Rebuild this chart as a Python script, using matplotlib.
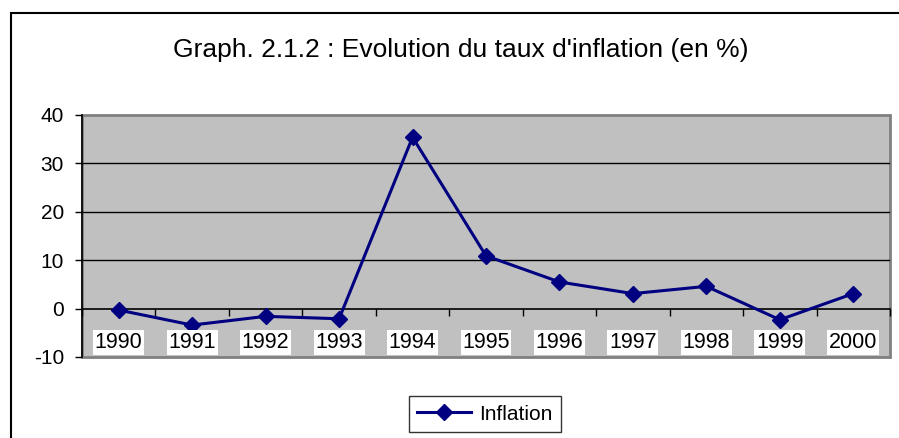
import matplotlib
matplotlib.use("Agg")
import matplotlib.pyplot as plt
from matplotlib.patches import Rectangle

plt.rcParams['font.family'] = ['Liberation Sans', 'DejaVu Sans']
plt.rcParams['axes.unicode_minus'] = False

years = ['1990', '1991', '1992', '1993', '1994', '1995', '1996', '1997', '1998', '1999', '2000']
inflation = [-0.3, -3.4, -1.6, -2.1, 35.4, 10.9, 5.5, 3.1, 4.6, -2.3, 3.1]
y_ticks = [-10, 0, 10, 20, 30, 40]

fig = plt.figure(figsize=(8.99, 4.38), dpi=100)
ax = fig.add_axes([82 / 899, 1 - 357 / 438, (890 - 82) / 899, (357 - 115) / 438])
ax.set_facecolor('#c0c0c0')

x = list(range(len(years)))
ax.plot(x, inflation, color='#000080', lw=2.2, marker='D', markersize=8.5,
        label='Inflation', zorder=5, clip_on=False)

ax.set_xlim(-0.5, len(years) - 0.5)
ax.set_ylim(-10, 40)
ax.set_yticks(y_ticks)
ax.tick_params(axis='y', labelsize=15, length=5, width=1, direction='out', pad=8)

# horizontal gridlines
for v in y_ticks[2:-1]:
    ax.axhline(v, color='black', lw=1, zorder=1)

# category axis crossing at 0
ax.spines['bottom'].set_position(('data', 0))
ax.spines['bottom'].set_color('black')
ax.spines['bottom'].set_linewidth(1.2)
ax.set_xticks([i - 0.5 for i in range(len(years) + 1)])
ax.set_xticklabels([])
ax.tick_params(axis='x', length=5, width=1, direction='out', color='black')
for i, yr in enumerate(years):
    ax.text(i, -7.0, yr, ha='center', va='center', fontsize=15.5, zorder=6,
            bbox=dict(facecolor='white', edgecolor='none', pad=1.2))

ax.spines['left'].set_color('black')
ax.spines['left'].set_linewidth(1.2)
ax.spines['top'].set_visible(False)
ax.spines['right'].set_visible(False)
# plot area frame
ax.add_patch(Rectangle((0, 0), 1, 1, transform=ax.transAxes, fill=False,
                       edgecolor='#808080', lw=2, clip_on=False, zorder=0.5))

# outer chart border
fig.patches.append(Rectangle((11 / 899, -0.1), 1.1, 1 - 13 / 438 + 0.1,
                             transform=fig.transFigure, fill=False,
                             edgecolor='black', lw=1.5))

fig.text(461 / 899, 1 - 50 / 438, "Graph. 2.1.2 : Evolution du taux d'inflation (en %)",
         ha='center', va='center', fontsize=19)

leg = fig.legend(loc='center', bbox_to_anchor=(485 / 899, 1 - 414 / 438),
                 fontsize=15, frameon=True, fancybox=False, handlelength=2.6,
                 borderpad=0.4, handletextpad=0.4)
leg.get_frame().set_edgecolor('black')
leg.get_frame().set_linewidth(1)

fig.savefig('out.png', dpi=100)
